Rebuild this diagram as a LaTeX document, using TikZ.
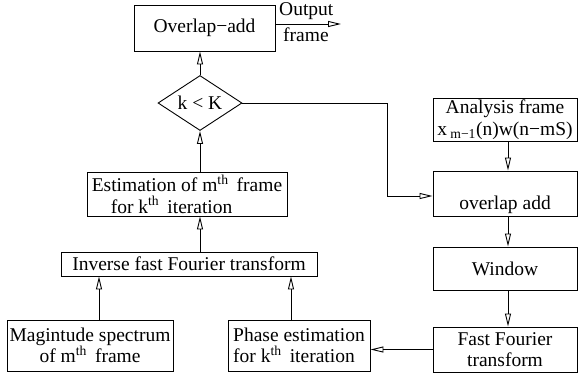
\documentclass[tikz,border=0pt]{standalone}
\usepackage{fontspec}
\setmainfont{Liberation Serif}
\usetikzlibrary{arrows.meta,shapes.geometric,calc}
\begin{document}
\begin{tikzpicture}[x=1pt,y=-1pt,
  every node/.style={font=\fontsize{19.5}{21.5}\selectfont},
  box/.style={draw,line width=0.9pt,inner sep=0pt},
  arr/.style={line width=0.9pt,-{Triangle[open,length=13pt,width=6pt]}},
  ln/.style={line width=0.9pt}]
\useasboundingbox (0,0) rectangle (580,376);
% left column
\node[box,minimum width=141pt,minimum height=46pt] (oadd) at (204.5,28) {Overlap\raisebox{0.5pt}{−}add};
\node[box,shape=diamond,aspect=1.5,minimum width=84pt,minimum height=55pt] (dia) at (200,103) {k < K};
\node[box,minimum width=200pt,minimum height=44pt,align=left] (est) at (187,194)
  {Estimation of m\textsuperscript{th}\, frame\\\hspace*{19pt}for k\textsuperscript{th}\, iteration};
\node[box,minimum width=256pt,minimum height=24pt] (ifft) at (189,264) {Inverse fast Fourier transform};
\node[box,minimum width=166pt,minimum height=51pt,align=center] (mag) at (90,345.5)
  {Magintude spectrum\\of m\textsuperscript{th}\, frame};
\node[box,minimum width=142pt,minimum height=51pt,align=left] (phase) at (299,345.5)
  {Phase estimation\\for k\textsuperscript{th}\, iteration};
% right column
\node[box,minimum width=144pt,minimum height=43pt,align=center] (ana) at (505,119.5)
  {Analysis frame\\x\,\textsubscript{m−1}(n)w(n−mS)};
\node[box,minimum width=144pt,text height=38pt,text depth=7pt] (ola) at (505,193.5) {overlap add};
\node[box,minimum width=144pt,minimum height=43pt] (win) at (505,268.5) {Window};
\node[box,minimum width=144pt,minimum height=45pt,align=center] (fft) at (505,349.5)
  {Fast Fourier\\transform};
% output
\coordinate (out) at (341,24);
\draw[arr] ([yshift=4pt]oadd.east) -- (out);
\node[anchor=south west,inner sep=0pt] at (279,20) {Output};
\node[anchor=north west,inner sep=0pt] at (283,28) {frame};
% connectors
\draw[arr] (dia.north) -- (dia.north |- oadd.south);
\draw[arr] (est.north -| dia.south) -- (dia.south);
\draw[arr] (ifft.north -| dia.south) -- (est.south -| dia.south);
\draw[arr] ([xshift=9pt]mag.north) -- ([xshift=9pt]mag.north |- ifft.south);
\draw[arr] ([xshift=-8pt]phase.north) -- ([xshift=-8pt]phase.north |- ifft.south);
\draw[arr] (dia.east) -- ++(145,0) |- ([yshift=-2.5pt]ola.west);
\draw[arr] ([xshift=3pt]ana.south) -- ([xshift=3pt]ola.north);
\draw[arr] ([xshift=3pt]ola.south) -- ([xshift=3pt]win.north);
\draw[arr] ([xshift=3pt]win.south) -- ([xshift=3pt]fft.north);
\draw[arr] (fft.west) -- (fft.west -| phase.east);
\end{tikzpicture}
\end{document}
